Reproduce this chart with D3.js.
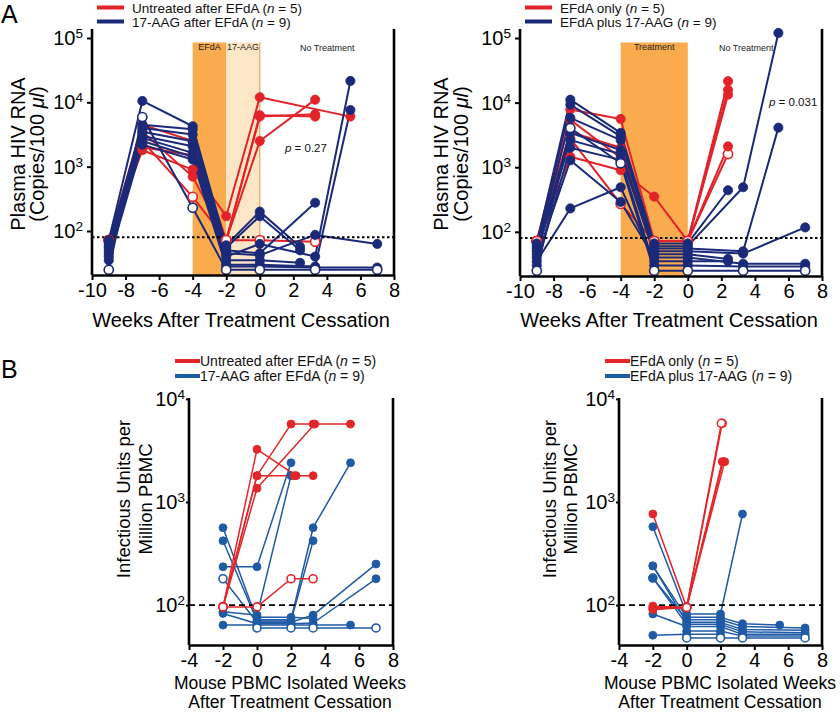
<!DOCTYPE html>
<html><head><meta charset="utf-8">
<script src="https://cdn.jsdelivr.net/npm/d3@7"></script>
<style>body{margin:0;background:#fff}svg{display:block}text{font-family:"Liberation Sans",Arial,Helvetica,sans-serif}</style>
</head><body>
<svg id="c" width="840" height="713"></svg>
<script>
// ---------- data ----------
const xTicksA = [-10,-8,-6,-4,-2,0,2,4,6,8];
const xTicksB = [-4,-2,0,2,4,6,8];
const yTicksA = [100,1000,10000,100000];
const yTicksB = [100,1000,10000];
const lodA = 80, lodB = 100;
const xTitleA = "Weeks After Treatment Cessation";
const xTitleB = ["Mouse PBMC Isolated Weeks","After Treatment Cessation"];
const yTitleA = ["Plasma HIV RNA","(Copies/100 "];
const yTitleB = ["Infectious Units per","Million PBMC"];
const legendLeft = ["Untreated after EFdA", "17-AAG after EFdA"];
const legendRight = ["EFdA only", "EFdA plus 17-AAG"];
const groupN = [5, 9];
const pValues = ["0.27", "0.031"];
const shadeLeft = [{from:-4,to:-2,label:"EFdA"},{from:-2,to:0,label:"17-AAG"}];
const shadeRight = [{from:-4,to:0,label:"Treatment"}];

// each mouse: [week, value, open(1)/filled(0)]
const aLeftRed = [
 [[-9,72,1],[-7,1800,0],[-4,900,0],[-2,170,0],[0,12000,0],[5.4,6000,0]],
 [[-9,72,1],[-7,3500,0],[-4,700,0],[-2,72,1],[0,6000,0],[3.3,6500,0]],
 [[-9,72,1],[-7,2500,0],[-4,340,1],[-2,72,1],[0,2500,0],[3.3,11000,0]],
 [[-9,72,1],[-7,4500,0],[-4,2500,0],[-2,72,1],[0,6300,0],[3.3,6000,0]],
 [[-9,72,1],[-7,2000,0],[-4,1500,0],[-2,72,1],[0,72,1],[3.3,68,1]]
];
const aLeftBlue = [
 [[-9,72,0],[-7,10500,0],[-4,4250,0],[-2,60,0],[0,200,0],[2.4,57,0]],
 [[-9,66,0],[-7,4500,0],[-4,3800,0],[-2,55,0],[0,170,0],[2.4,50,0]],
 [[-9,60,0],[-7,4000,0],[-4,3150,0],[-2,50,0],[0,45,0],[3.3,275,0]],
 [[-9,55,0],[-7,3500,0],[-4,2480,0],[-2,45,0],[0,42,0],[3.3,87,0],[7,63,0]],
 [[-9,50,0],[-7,3000,0],[-4,2070,0],[-2,40,0],[0,63,0],[3.3,40,0],[5.4,21500,0]],
 [[-9,45,0],[-7,2800,0],[-4,1640,0],[-2,35,0],[0,35,0],[2.4,32,0]],
 [[-9,40,0],[-7,2500,0],[-4,1430,0],[-2,30,0],[0,30,0],[3.3,28,0],[5.4,7600,0]],
 [[-9,35,0],[-7,2200,0],[-4,1290,0],[-2,28,0],[0,28,0],[3.3,27,0],[7,27,0]],
 [[-9,25,1],[-7,5900,1],[-4,230,1],[-2,25,1],[0,25,1],[3.3,25,1],[7,25,1]]
];
const aRightRed = [
 [[-9,72,1],[-7,7800,0],[-4,5600,0],[-2,72,1],[0,72,1],[2.4,21500,0]],
 [[-9,72,1],[-7,1450,0],[-4,900,0],[-2,350,0],[0,72,1],[2.4,15800,0]],
 [[-9,72,1],[-7,5400,0],[-4,1400,0],[-2,72,1],[0,72,1],[2.4,13300,0]],
 [[-9,72,1],[-7,2800,0],[-4,270,1],[-2,72,1],[0,72,1],[2.4,1600,1]],
 [[-9,72,1],[-7,3500,0],[-4,2000,0],[-2,72,1],[0,72,1],[2.4,2100,0]]
];
const aRightBlue = [
 [[-9,66,0],[-7,11100,0],[-4,3400,0],[-2,66,0],[0,66,0],[2.4,440,0]],
 [[-9,60,0],[-7,9300,0],[-4,3000,0],[-2,60,0],[0,60,0],[3.3,490,0],[5.4,120000,0]],
 [[-9,55,0],[-7,5800,0],[-4,2630,0],[-2,55,0],[0,55,0],[3.3,50,0],[5.4,4100,0]],
 [[-9,50,0],[-7,3400,0],[-4,1850,0],[-2,50,0],[0,50,0],[3.3,46,0],[7,117,0]],
 [[-9,45,0],[-7,2630,0],[-4,1600,0],[-2,45,0],[0,45,0],[2.4,38,0]],
 [[-9,40,0],[-7,1280,0],[-4,290,0],[-2,40,0],[0,40,0],[3.3,32,0],[7,32,0]],
 [[-9,35,0],[-7,230,0],[-4,490,0],[-2,35,0],[0,35,0],[2.4,35,0]],
 [[-9,30,0],[-7,2000,0],[-4,1300,0],[-2,30,0],[0,30,0],[3.3,29,0],[7,29,0]],
 [[-9,25,1],[-7,4050,1],[-4,1150,1],[-2,25,1],[0,25,1],[3.3,25,1],[7,25,1]]
];
const bLeftRed = [
 [[-2,96,1],[0,1800,0],[2,5700,0],[3.3,5700,0],[5.5,5700,0]],
 [[-2,96,1],[0,3240,0],[2.3,1800,0]],
 [[-2,96,1],[0,1800,0],[2.2,1800,0],[3.3,1800,0]],
 [[-2,96,1],[0,1360,0],[3.4,5700,0]],
 [[-2,96,1],[0,96,1],[2,180,1],[3.3,180,1]]
];
const bLeftBlue = [
 [[-2,563,0],[0,72,0],[2,72,0],[3.3,563,0],[5.5,2400,0]],
 [[-2,420,0],[0,70,0],[2,70,0],[3.3,420,0]],
 [[-2,235,0],[0,235,0],[2,2400,0]],
 [[-2,86,0],[0,80,0],[2,1800,0]],
 [[-2,180,1],[0,68,0],[2,68,0],[3.3,80,0],[7,250,0]],
 [[-2,83,0],[0,66,0],[2,66,0],[3.3,67,0],[7,180,0]],
 [[-2,64,0],[0,64,0],[2,64,0],[3.3,64,0],[5.5,64,0]],
 [[0,76,0],[2,76,0],[3.3,74,0]],
 [[0,60,1],[2,60,1],[3.3,60,1],[7,60,1]]
];
const bRightRed = [
 [[-2,765,0],[0,95,1],[2.1,5800,1]],
 [[-2,98,0],[0,95,1],[2.05,5800,1]],
 [[-2,95,0],[0,95,1],[2.15,2460,0]],
 [[-2,92,0],[0,95,1],[2.25,2460,0]],
 [[-2,90,0],[0,95,1],[2.1,2460,0]]
];
const bRightBlue = [
 [[-2,575,0],[0,82,0],[2,82,0],[3.3,765,0]],
 [[-2,240,0],[0,76,0],[2,76,0],[3.3,66,0],[5.5,64,0]],
 [[-2,183,1],[0,72,0],[2,72,0],[3.3,62,0],[7,60,0]],
 [[-2,240,0],[0,68,0],[2,68,0],[3.3,58,0],[7,57,0]],
 [[-2,183,0],[0,65,0],[2,65,0],[3.3,55,0],[7,54,0]],
 [[-2,82,0],[0,62,0],[2,62,0],[3.3,52,0],[7,52,0]],
 [[-2,51,0],[0,52,0],[2,52,0]],
 [[0,56,0],[2,56,0],[3.3,50,0],[7,50,0]],
 [[0,48,1],[2,48,1],[3.3,48,1],[7,48,1]]
];

// ---------- drawing ----------
const svg = d3.select("#c");
const FONT = '"Liberation Sans",Arial,Helvetica,sans-serif';

function supLabel(sel){
  sel.each(function(d){
    const t = d3.select(this); t.text(null);
    t.append("tspan").text("10");
    t.append("tspan").attr("dy","-0.5em").attr("font-size","0.68em").text(Math.round(Math.log10(d)));
  });
}

function legendText(g, x, y, label, n, fs){
  const t = g.append("text").attr("x",x).attr("y",y).attr("font-size",fs).attr("fill","#111");
  t.append("tspan").text(label+" (");
  t.append("tspan").attr("font-style","italic").text("n");
  t.append("tspan").text(" = "+n+")");
}

function panel(o){
  const g = svg.append("g");
  const x = d3.scaleLinear().domain(o.xd).range([o.l,o.r]);
  const y = d3.scaleLog().domain(o.yd).range([o.b,o.t]);
  (o.shades||[]).forEach((s,i)=>{
    g.append("rect").attr("x",x(s.from)).attr("y",o.shadeTop).attr("width",x(s.to)-x(s.from))
     .attr("height",o.b-o.shadeTop).attr("fill",s.color);
    g.append("text").attr("x",(x(s.from)+x(s.to))/2).attr("y",o.shadeTop+7.5).attr("text-anchor","middle")
     .attr("font-size",9).attr("fill","#222").text(s.label);
  });
  if(o.shadeEdge!==undefined){
    g.append("line").attr("x1",x(o.shadeEdge)).attr("x2",x(o.shadeEdge)).attr("y1",o.shadeTop).attr("y2",o.b)
     .attr("stroke","#e9a456").attr("stroke-width",1.2);
  }
  if(o.noTreat){
    g.append("text").attr("x",o.noTreat[0]).attr("y",o.noTreat[1]).attr("font-size",9).attr("fill","#222").text("No Treatment");
  }
  const line = d3.line().x(d=>x(d[0])).y(d=>y(d[1]));
  const groups = o.groups;
  groups.forEach(gr=>{
    g.append("g").selectAll("path").data(gr.data).join("path")
     .attr("d",line).attr("fill","none").attr("stroke",gr.color).attr("stroke-width",o.lw).attr("stroke-linejoin","round");
  });
  g.append("line").attr("x1",o.l).attr("x2",o.r).attr("y1",y(o.lod)).attr("y2",y(o.lod))
   .attr("stroke","#000").attr("stroke-width",o.lodW).attr("stroke-dasharray",o.lodDash);
  groups.forEach(gr=>{
    g.append("g").selectAll("circle").data(gr.data.flat()).join("circle")
     .attr("cx",d=>x(d[0])).attr("cy",d=>y(d[1])).attr("r",o.r0)
     .attr("fill",d=>d[2]?"#fff":gr.color).attr("stroke",gr.color).attr("stroke-width",d=>d[2]?1.6:0.8);
  });
  const xa = g.append("g").attr("transform",`translate(0,${o.b})`)
    .call(d3.axisBottom(x).tickValues(o.xt).tickSize(5).tickSizeOuter(0).tickPadding(3).tickFormat(d=>String(d)));
  const ya = g.append("g").attr("transform",`translate(${o.l},0)`)
    .call(d3.axisLeft(y).tickValues(o.yt).tickSize(o.ytick).tickSizeOuter(0).tickPadding(o.ypad).tickFormat(d=>d));
  [xa,ya].forEach(a=>{
    a.select(".domain").attr("stroke","#000").attr("stroke-width",2.6);
    a.selectAll(".tick line").attr("stroke","#000").attr("stroke-width",2);
    a.selectAll(".tick text").attr("font-size",o.tfs).attr("font-family",FONT).attr("fill","#000");
  });
  ya.select(".domain").attr("d",`M0,${o.b}V${o.axTop}`);
  ya.selectAll(".tick text").call(supLabel);
  g.append("line").attr("x1",o.r).attr("x2",o.r).attr("y1",o.axTop).attr("y2",o.b).attr("stroke","#000").attr("stroke-width",2.6);
  return {g,x,y};
}

const shadeDark = "#f9ab4e", shadeLight = "#fde6c6";
const redA = "#e2232a", blueA = "#1b2a78", redB = "#e3262a", blueB = "#1f5aa5";

const pA1 = panel({l:92,r:394,t:29,b:275,axTop:29,xd:[-10,8],yd:[20.7,1.38e5],xt:xTicksA,yt:yTicksA,
  lod:lodA,lodW:2,lodDash:"2.5,2.5",lw:2,r0:4.6,tfs:20,ytick:5,ypad:4,shadeTop:42.5,
  shades:[{...shadeLeft[0],color:shadeDark},{...shadeLeft[1],color:shadeLight}],shadeEdge:0,noTreat:[300,50.5],
  groups:[{data:aLeftRed,color:redA},{data:aLeftBlue,color:blueA}]});
const pA2 = panel({l:520,r:822,t:29,b:276,axTop:29,xd:[-10,8],yd:[20.7,1.38e5],xt:xTicksA,yt:yTicksA,
  lod:lodA,lodW:2,lodDash:"2.5,2.5",lw:2,r0:4.6,tfs:20,ytick:5,ypad:4,shadeTop:42.5,
  shades:[{...shadeRight[0],color:shadeDark}],noTreat:[719,50.5],
  groups:[{data:aRightRed,color:redA},{data:aRightBlue,color:blueA}]});
const pB1 = panel({l:189,r:393,t:398,b:645,axTop:398,xd:[-4,8],yd:[41,10200],xt:xTicksB,yt:yTicksB,
  lod:lodB,lodW:1.6,lodDash:"6,4",lw:1.5,r0:4,tfs:20,ytick:3,ypad:1,
  groups:[{data:bLeftBlue,color:blueB},{data:bLeftRed,color:redB}]});
const pB2 = panel({l:619,r:822,t:398,b:645,axTop:398,xd:[-4,8],yd:[41,10200],xt:xTicksB,yt:yTicksB,
  lod:lodB,lodW:1.6,lodDash:"6,4",lw:1.5,r0:4,tfs:20,ytick:3,ypad:1,
  groups:[{data:bRightBlue,color:blueB},{data:bRightRed,color:redB}]});

[[285,152,pValues[0]],[769,106,pValues[1]]].forEach(([xx,yy,v])=>{
  const t = svg.append("text").attr("x",xx).attr("y",yy).attr("font-size",11.5).attr("fill","#111");
  t.append("tspan").attr("font-style","italic").text("p");
  t.append("tspan").text(" = "+v);
});

function yTitle(cx1, cx2, cy, lines, fs, italicTail){
  svg.append("text").attr("transform",`translate(${cx1},${cy}) rotate(-90)`).attr("text-anchor","middle").attr("font-size",fs).text(lines[0]);
  const t2 = svg.append("text").attr("transform",`translate(${cx2},${cy}) rotate(-90)`).attr("text-anchor","middle").attr("font-size",fs);
  t2.append("tspan").text(lines[1]);
  if(italicTail){ t2.append("tspan").attr("font-style","italic").text("\u03bcl"); t2.append("tspan").text(")"); }
}
yTitle(25,44,154,yTitleA,20,true);
yTitle(448,468,154,yTitleA,20,true);
yTitle(130,152,499,yTitleB,18.5,false);
yTitle(556,577,499,yTitleB,18.5,false);

svg.append("text").attr("x",241).attr("y",327).attr("text-anchor","middle").attr("font-size",20).text(xTitleA);
svg.append("text").attr("x",669).attr("y",327).attr("text-anchor","middle").attr("font-size",20).text(xTitleA);
[290,720].forEach(cx=>{
  svg.append("text").attr("x",cx).attr("y",689).attr("text-anchor","middle").attr("font-size",17.5).text(xTitleB[0]);
  svg.append("text").attr("x",cx).attr("y",708).attr("text-anchor","middle").attr("font-size",17.5).text(xTitleB[1]);
});

svg.append("text").attr("x",1).attr("y",23).attr("font-size",25).text("A");
svg.append("text").attr("x",1).attr("y",378).attr("font-size",25).text("B");

function legend(x0,x1,tx,y0,dy,labels,colors,fs,lw){
  labels.forEach((lab,i)=>{
    svg.append("line").attr("x1",x0).attr("x2",x1).attr("y1",y0+i*dy).attr("y2",y0+i*dy).attr("stroke",colors[i]).attr("stroke-width",lw);
    legendText(svg,tx,y0+i*dy+5,lab,groupN[i],fs);
  });
}
legend(97,124,132,7.5,14,legendLeft,[redA,blueA],13.5,4);
legend(525,552,560,7.5,14,legendRight,[redA,blueA],13.5,4);
legend(175,200,200,361,15,legendLeft,[redB,blueB],14,4);
legend(605,630,630,361,15,legendRight,[redB,blueB],14,4);
</script>
</body></html>
